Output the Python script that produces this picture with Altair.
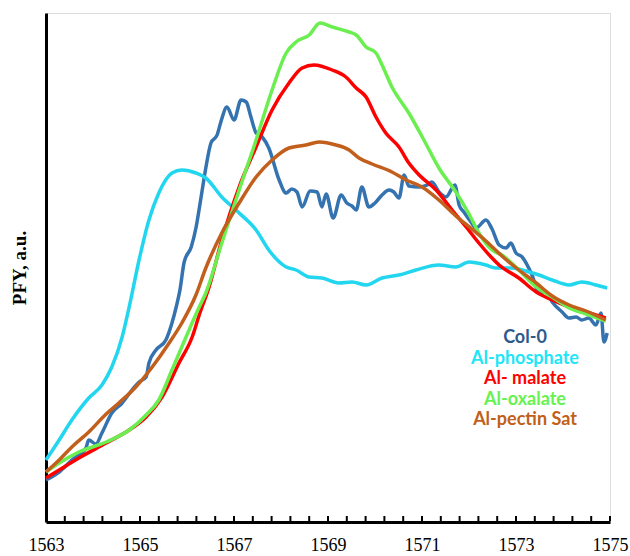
import altair as alt
import pandas as pd

# ---- data (energy, PFY in arbitrary units) ----
col0_x = [1563.00, 1563.28, 1563.55, 1563.85, 1563.91, 1564.06, 1564.19, 1564.40, 1564.62, 1564.83,
          1564.98, 1565.13, 1565.19, 1565.34, 1565.55, 1565.68, 1565.77, 1565.85, 1565.94, 1566.09,
          1566.19, 1566.30, 1566.40, 1566.51, 1566.64, 1566.72, 1566.85, 1567.00, 1567.15, 1567.26,
          1567.36, 1567.47, 1567.60, 1567.74, 1567.96, 1568.11, 1568.23, 1568.34, 1568.45, 1568.62,
          1568.77, 1568.87, 1568.96, 1569.11, 1569.28, 1569.40, 1569.51, 1569.60, 1569.72, 1569.87,
          1570.00, 1570.15, 1570.30, 1570.40, 1570.51, 1570.62, 1570.72, 1570.94, 1571.11, 1571.21,
          1571.36, 1571.51, 1571.70, 1571.79, 1571.89, 1572.04, 1572.15, 1572.36, 1572.49, 1572.64,
          1572.79, 1572.89, 1573.00, 1573.13, 1573.34, 1573.49, 1573.64, 1573.77, 1573.98, 1574.13,
          1574.28, 1574.40, 1574.55, 1574.70, 1574.81, 1574.87, 1574.94]
col0_y = [42, 50, 62, 74, 82, 78, 89, 109, 119, 132,
          140, 145, 159, 172, 182, 199, 215, 232, 260, 275,
          294, 325, 354, 379, 387, 400, 415, 402, 422, 420,
          405, 389, 385, 374, 342, 329, 333, 330, 315, 331,
          330, 315, 328, 304, 327, 319, 316, 312, 335, 315,
          319, 327, 332, 330, 324, 347, 336, 335, 337, 340,
          330, 325, 337, 317, 310, 300, 294, 302, 293, 277,
          274, 279, 269, 265, 247, 229, 230, 220, 210, 204,
          205, 202, 204, 197, 209, 180, 189]

phos_x = [1563.00, 1563.28, 1563.55, 1563.91, 1564.19, 1564.40, 1564.62, 1564.77, 1564.98, 1565.19,
          1565.40, 1565.68, 1565.89, 1566.19, 1566.40, 1566.74, 1567.11, 1567.47, 1567.74, 1568.11,
          1568.32, 1568.60, 1568.87, 1569.23, 1569.51, 1569.81, 1570.15, 1570.51, 1570.87, 1571.36,
          1571.72, 1572.00, 1572.36, 1572.57, 1572.91, 1573.28, 1573.49, 1573.77, 1574.13, 1574.40,
          1574.70, 1574.94]
phos_y = [62, 82, 102, 124, 137, 155, 185, 215, 262, 302,
          329, 349, 352, 349, 344, 325, 309, 292, 272, 255,
          252, 245, 244, 239, 240, 237, 244, 247, 252, 257,
          255, 260, 257, 254, 254, 250, 247, 242, 237, 240,
          237, 234]

mal_x = [1563.00, 1563.28, 1563.70, 1564.28, 1564.77, 1565.13, 1565.47, 1565.83, 1566.11, 1566.26,
         1566.47, 1566.74, 1567.11, 1567.47, 1567.81, 1568.17, 1568.45, 1568.70, 1569.09, 1569.38,
         1569.60, 1569.81, 1570.02, 1570.23, 1570.51, 1570.72, 1570.94, 1571.30, 1571.64, 1571.94,
         1572.21, 1572.49, 1572.64, 1573.06, 1573.43, 1573.77, 1574.13, 1574.49, 1574.91]
mal_y = [44, 52, 64, 79, 92, 105, 125, 159, 185, 207,
         235, 282, 335, 375, 412, 439, 454, 457, 452, 445,
         434, 425, 405, 389, 375, 359, 347, 332, 312, 295,
         279, 264, 257, 244, 230, 222, 215, 210, 204]

oxa_x = [1563.00, 1563.28, 1563.70, 1564.28, 1564.77, 1565.13, 1565.40, 1565.68, 1565.98, 1566.26,
         1566.40, 1566.74, 1567.11, 1567.47, 1567.81, 1568.11, 1568.32, 1568.60, 1568.83, 1569.09,
         1569.45, 1569.60, 1569.81, 1570.02, 1570.15, 1570.36, 1570.72, 1571.04, 1571.36, 1571.72,
         1572.00, 1572.21, 1572.49, 1572.70, 1573.06, 1573.43, 1573.77, 1574.13, 1574.49, 1574.91]
oxa_y = [50, 59, 70, 80, 92, 107, 122, 152, 185, 215,
         229, 279, 332, 382, 432, 469, 480, 487, 499, 495,
         490, 487, 475, 469, 457, 435, 409, 382, 354, 330,
         308, 289, 272, 267, 252, 235, 225, 214, 208, 201]

pec_x = [1563.00, 1563.28, 1563.55, 1563.91, 1564.28, 1564.55, 1564.91, 1565.26, 1565.62, 1565.89,
         1566.19, 1566.40, 1566.74, 1567.11, 1567.47, 1567.81, 1568.17, 1568.53, 1568.81, 1569.17,
         1569.45, 1569.66, 1569.94, 1570.36, 1570.66, 1571.00, 1571.36, 1571.72, 1572.06, 1572.36,
         1572.70, 1573.06, 1573.43, 1573.77, 1574.13, 1574.49, 1574.91]
pec_y = [50, 62, 75, 90, 108, 119, 135, 155, 179, 199,
         227, 254, 289, 319, 345, 362, 374, 377, 380, 377,
         372, 364, 358, 350, 342, 335, 322, 306, 293, 281,
         266, 252, 239, 226, 217, 211, 202]

series_names = ["Col-0", "Al-phosphate", "Al- malate", "Al-oxalate", "Al-pectin Sat"]
line_colors = ["#3573b0", "#22d6ef", "#ff0000", "#6bef50", "#c25f1c"]
label_colors = ["#2d5a8c", "#1de6f7", "#ff0000", "#66f24f", "#c0601a"]
x_labels = [1563, 1565, 1567, 1569, 1571, 1573, 1575]
x_minor_ticks = [round(1563 + 0.4 * k, 1) for k in range(31)]

rows = []
for name, xs, ys in zip(series_names,
                        [col0_x, phos_x, mal_x, oxa_x, pec_x],
                        [col0_y, phos_y, mal_y, oxa_y, pec_y]):
    for i, (xv, yv) in enumerate(zip(xs, ys)):
        rows.append({"series": name, "energy": xv, "pfy": yv, "i": i})
df = pd.DataFrame(rows)

label_expr = " : ".join(
    f"datum.label == '{n}' ? '{c}'" for n, c in zip(series_names, label_colors)
) + " : 'black'"

xscale = alt.Scale(domain=[1563, 1575], nice=False, zero=False)
xaxis = alt.Axis(values=x_labels, format="d", title=None, ticks=False, grid=False,
                 labelFont="Liberation Serif", labelFontSize=18, labelColor="black",
                 labelPadding=14, labelFlush=False, labelOverlap=False,
                 domainColor="black", domainWidth=3)

lines = alt.Chart(df).mark_line(strokeWidth=3.5, interpolate="monotone").encode(
    x=alt.X("energy:Q", scale=xscale, axis=xaxis),
    y=alt.Y("pfy:Q", scale=alt.Scale(domain=[0, 509], nice=False),
            axis=alt.Axis(title="PFY, a.u.", labels=False, ticks=False, grid=False,
                          titleFont="Liberation Serif", titleFontSize=19, titleFontWeight="bold",
                          titleColor="black", titlePadding=17,
                          domainColor="black", domainWidth=3)),
    color=alt.Color("series:N",
                    scale=alt.Scale(domain=series_names, range=line_colors),
                    legend=alt.Legend(title=None, orient="none", legendX=461, legendY=316,
                                      symbolSize=0, symbolOpacity=0, symbolStrokeWidth=0,
                                      labelAlign="center", labelOffset=0,
                                      labelFont="Lato", labelFontSize=18, labelFontWeight="bold",
                                      labelColor=alt.expr(label_expr), labelLimit=300,
                                      rowPadding=2.5, padding=0)),
    detail="series:N",
    order="i:Q",
)

ticks = alt.Chart(pd.DataFrame({"t": x_minor_ticks})).mark_rule(
    color="black", strokeWidth=2
).encode(
    x=alt.X("t:Q", scale=xscale, axis=xaxis),
    y=alt.value(503),
    y2=alt.value(508),
)

chart = alt.layer(lines, ticks).properties(
    width=564, height=509,
    padding={"left": 46, "top": 13, "right": 20, "bottom": 34},
    autosize=alt.AutoSizeParams(type="none"),
).configure_view(stroke=None).configure(background="white")

chart.save("out.html", embed_options={"renderer": "svg", "actions": False})
